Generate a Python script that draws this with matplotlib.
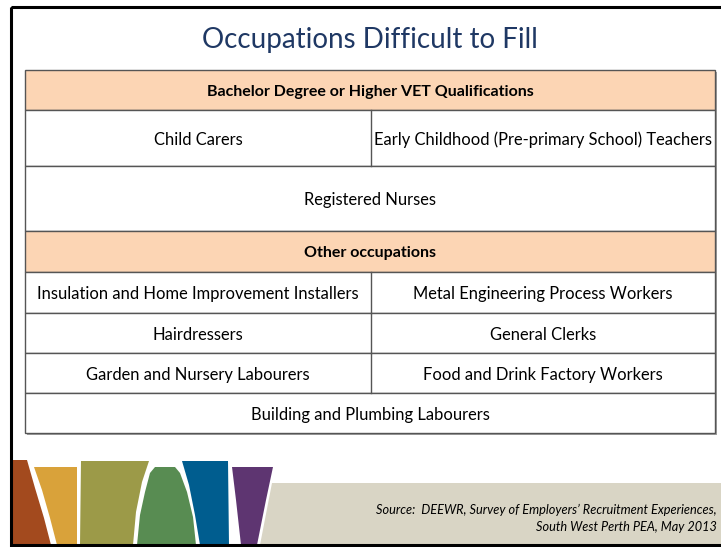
import matplotlib.pyplot as plt
from matplotlib.patches import Rectangle, Polygon

plt.rcParams['font.family'] = ['Lato', 'DejaVu Sans']

title = "Occupations Difficult to Fill"
section1 = "Bachelor Degree or Higher VET Qualifications"
section1_rows = [["Child Carers", "Early Childhood (Pre-primary School) Teachers"],
                 ["Registered Nurses"]]
section2 = "Other occupations"
section2_rows = [["Insulation and Home Improvement Installers", "Metal Engineering Process Workers"],
                 ["Hairdressers", "General Clerks"],
                 ["Garden and Nursery Labourers", "Food and Drink Factory Workers"],
                 ["Building and Plumbing Labourers"]]
source = ["Source:  DEEWR, Survey of Employers\u2019 Recruitment Experiences,",
          "South West Perth PEA, May 2013"]

# layout (pixels, y grows downward)
left, right, mid = 25, 715, 371
row_tops = [70, 110, 166, 231, 272, 313, 353, 393, 433]
peach = "#fcd5b4"
line_c = "#555555"
cell_fs = 11.9
dy = 2  # nudge text a little lower in each cell

fig = plt.figure(figsize=(7.21, 5.47), dpi=100)
ax = fig.add_axes([0, 0, 1, 1])
ax.set_xlim(0, 721)
ax.set_ylim(547, 0)
ax.axis("off")

ax.text(370, 40, title, ha="center", va="center", fontsize=20,
        color="#1f3864")

rows = [("head", section1)] + [("row", r) for r in section1_rows] + \
       [("head", section2)] + [("row", r) for r in section2_rows]

# table shadow
ax.add_patch(Rectangle((left + 2, row_tops[0] + 2), right - left, row_tops[-1] - row_tops[0],
                       facecolor="#a0a0a0", edgecolor="none"))

for i, (kind, content) in enumerate(rows):
    y0, y1 = row_tops[i], row_tops[i + 1]
    yc = (y0 + y1) / 2 + dy
    fc = peach if kind == "head" else "white"
    ax.add_patch(Rectangle((left, y0), right - left, y1 - y0, facecolor=fc,
                           edgecolor=line_c, lw=1.0))
    if kind == "head":
        ax.text((left + right) / 2, yc, content, ha="center", va="center",
                fontsize=11.5, fontweight="bold", color="black")
    elif len(content) == 1:
        ax.text((left + right) / 2, yc, content[0], ha="center", va="center",
                fontsize=cell_fs, color="black")
    else:
        ax.plot([mid, mid], [y0, y1], color=line_c, lw=1.0)
        ax.text((left + mid) / 2, yc, content[0], ha="center", va="center",
                fontsize=cell_fs, color="black")
        ax.text((mid + right) / 2, yc, content[1], ha="center", va="center",
                fontsize=cell_fs, color="black")

# decorative band at the bottom
shapes = [
    ("#a34a1e", [(12, 460), (27, 460), (35, 488), (44, 518), (51, 545), (12, 545)]),
    ("#d9a23a", [(34, 467), (77, 467), (77, 545), (57, 545), (50, 518), (42, 490)]),
    ("#9c9a48", [(81, 461), (149, 461), (142, 482), (136, 512), (133, 545), (80, 545)]),
    ("#588c52", [(150, 473), (155, 467), (175, 467), (180, 473), (187, 492), (193, 517),
                 (196, 545), (137, 545), (140, 515), (145, 492)]),
    ("#005d8f", [(182, 461), (228, 461), (229, 545), (200, 545), (195, 515), (189, 485)]),
    ("#5e3571", [(232, 467), (273, 467), (266, 500), (257, 545), (241, 545), (236, 500)]),
    ("#d9d5c5", [(272, 483), (721, 483), (721, 545), (260, 545)]),
]
for color, pts in shapes:
    ax.add_patch(Polygon(pts, closed=True, facecolor=color, edgecolor="none"))

ax.text(717, 510, source[0], ha="right", va="center", fontsize=9.2, style="italic")
ax.text(717, 527, source[1], ha="right", va="center", fontsize=9.2, style="italic")

# slide border
ax.add_patch(Rectangle((11, 7), 740, 538, fill=False, edgecolor="black", lw=2.2, zorder=5))

fig.savefig("out.png", dpi=100)
